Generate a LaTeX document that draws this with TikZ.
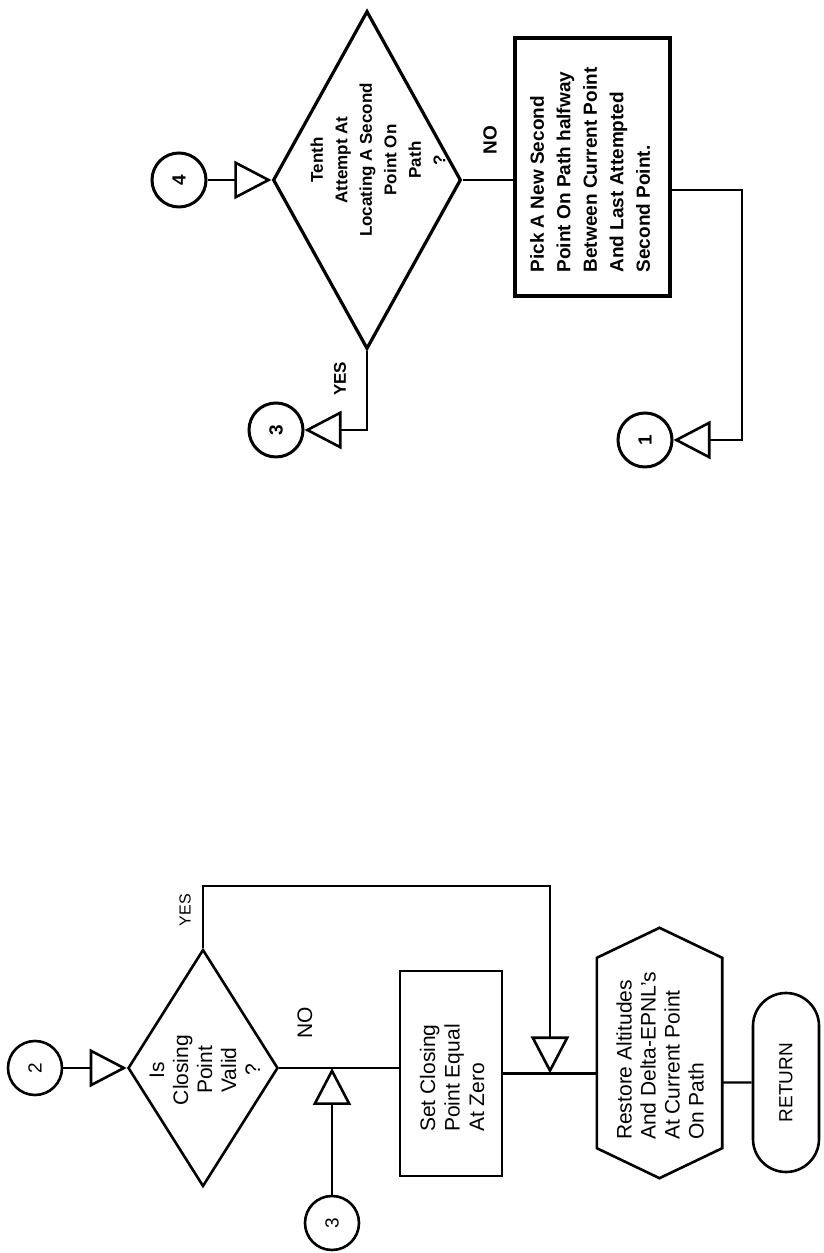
\documentclass[tikz,border=0pt]{standalone}
\usepackage{fontspec}
\setmainfont{Liberation Sans}
\usetikzlibrary{arrows.meta,shapes.geometric,shapes.misc,calc}
\begin{document}
\begin{tikzpicture}[x=1pt,y=1pt,
  shp/.style={draw,line width=2.6pt,inner sep=0pt},
  ushp/.style={draw,line width=3.2pt,inner sep=0pt},
  con/.style={line width=2.2pt},
  tri/.style={-{Triangle[open,length=37pt,width=38pt,line width=2.6pt]}},
  circ/.style={shp,circle,minimum size=54pt,rotate=90,font=\fontsize{19}{22}\selectfont},
  txt/.style={rotate=90,inner sep=0pt},
  ltxt/.style={txt,align=left,font=\fontsize{21}{24.5}\selectfont},
  utxt/.style={txt,align=left,font=\bfseries\fontsize{19}{26.5}\selectfont},
  lbl/.style={rotate=90,inner sep=0pt,font=\fontsize{21}{24}\selectfont},
  ulbl/.style={rotate=90,inner sep=0pt,font=\bfseries\fontsize{19}{24}\selectfont}]
\path[use as bounding box] (0,0) rectangle (823,1253);

% ---------------- upper part ----------------
\node[circ,line width=3pt] (c4) at (179,1073) {\bfseries 4};
\node[ushp,diamond,minimum width=188pt,minimum height=338pt] (tenth) at (367,1073) {};
\node[txt,align=center,font=\bfseries\fontsize{17}{24.5}\selectfont] (tenthT) at (378,1093)
  {Tenth\\Attempt At\\Locating A Second\\Point On\\Path\\?};
\node[ushp,minimum width=155pt,minimum height=258pt] (pick) at (592.5,1086) {};
\node[utxt] (pickT) at (590,1083)
  {Pick A New Second\\Point On Path halfway\\Between Current Point\\And Last Attempted\\Second Point.};
\node[circ,line width=3pt] (c3u) at (276,823) {\bfseries 3};
\node[circ,line width=3pt] (c1) at (645,813) {\bfseries 1};
\coordinate (p1) at (742,1063);

\draw[con,tri] (c4) -- (tenth);
\draw[con] (tenth.east) -- (tenth.east -| pick.west);
\draw[con,tri] (tenth.south) |- (c3u);
\draw[con,tri] (pick.east |- p1) -- (p1) |- (c1);

\node[ulbl] (noU) at (490,1113) {NO};
\node[ulbl,font=\bfseries\fontsize{17}{20}\selectfont] (yesU) at (340,874) {YES};

% ---------------- lower part ----------------
\node[circ] (c2) at (35,185) {2};
\node[shp,diamond,minimum width=150pt,minimum height=237pt] (closing) at (203,185) {};
\node[txt,align=center,font=\fontsize{21}{24}\selectfont] (closingT) at (205,183)
  {Is\\Closing\\Point\\Valid\\?};
\node[shp,minimum width=102pt,minimum height=205pt] (setbox) at (451,179.5) {};
\node[ltxt] (setT) at (452,175) {Set Closing\\Point Equal\\At Zero};
\node[minimum width=125pt,minimum height=250pt,inner sep=0pt] (hex) at (659.5,200) {};
\draw[shp,line join=miter] (hex.north) -- ($(hex.north east)+(0,-30)$) -- ($(hex.south east)+(0,30)$)
  -- (hex.south) -- ($(hex.south west)+(0,30)$) -- ($(hex.north west)+(0,-30)$) -- cycle;
\node[ltxt,font=\fontsize{21}{24}\selectfont] (hexT) at (660,197)
  {Restore Altitudes\\And Delta-EPNL's\\At Current Point\\On Path};
\node[shp,rounded rectangle,rotate=90,minimum width=179pt,minimum height=66pt,
  font=\fontsize{19}{22}\selectfont] (ret) at (786,170.5) {RETURN};
\node[circ] (c3l) at (332,30) {3};
\coordinate (ytop) at (550,367);

\draw[con,tri] (c2) -- (closing);
\draw[con] (closing.east) -- (closing.east -| setbox.west);
\draw[con,tri] (c3l) -- (c3l |- closing.east);
\draw[con,tri] (closing.north) |- (ytop) -- (ytop |- setbox.east);
\draw[con] (setbox.east) -- (setbox.east -| hex.west);
\draw[con] (hex.east |- ret) -- (ret);

\node[lbl] (noL) at (305,230) {NO};
\node[lbl,font=\fontsize{16}{20}\selectfont] (yesL) at (185,343) {YES};
\end{tikzpicture}
\end{document}
